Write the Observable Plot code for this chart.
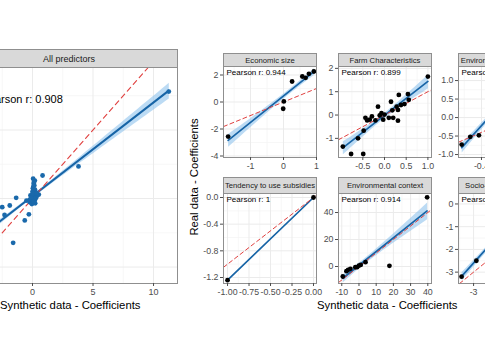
<!DOCTYPE html>
<html>
<head>
<meta charset="utf-8">
<script src="https://cdn.jsdelivr.net/npm/d3@7"></script>
<script src="https://cdn.jsdelivr.net/npm/@observablehq/plot@0.6"></script>
<style>
  html, body { margin: 0; padding: 0; background: #fff; }
  #wrap { position: relative; width: 485px; height: 360px; overflow: hidden; background: #fff; }
  .strip { position: absolute; box-sizing: border-box; background: #d9d9d9; border: 1px solid #8f8f8f;
           display: flex; align-items: center; justify-content: center; white-space: nowrap; overflow: hidden;
           color: #1a1a1a; font-family: 'Liberation Sans', Arial, sans-serif; }
  .title { position: absolute; white-space: nowrap; color: #000; font-family: 'Liberation Sans', Arial, sans-serif; font-size: 11.3px; }
</style>
</head>
<body>
<div id="wrap"></div>
<script>
// ---------- data ----------
const panelTitles = ["All predictors", "Economic size", "Farm Characteristics", "Environmental awareness",
                     "Tendency to use subsidies", "Environmental context", "Socio-economic factors"];
const pearsonLabels = ["Pearson r: 0.908", "Pearson r: 0.944", "Pearson r: 0.899", "Pearson r: 0.871",
                       "Pearson r: 1", "Pearson r: 0.914", "Pearson r: 0.982"];

const allX = [11.26, 3.8, 0.83, 0.19, 0.1, 0.03, 0.0, -0.17, 0.1, 0.39, -0.5, -0.22, 0.0, -1.35, -1.88, -2.5,
              -2.31, -0.3, -0.64, -1.6, 0.25, 0.52, 0.15, 0.05, -0.1, 0.2, 0.3,
              0.05, 0.12, 0.08, 0.2, 0.02, -0.05, 0.15, 0.35, -0.12, 0.05, 0.22, 0.1,
              -4.5, -3.6, -5.2];
const allY = [7.8, 2.34, 1.68, 1.31, 1.1, 0.75, 0.5, 0.22, 0.22, 0.22, -0.15, -0.27, -0.15, 0.05, -0.51, -0.63,
              -1.2, -1.15, -1.6, -3.23, 0.46, 0.29, 0.95, 0.1, -0.05, -0.1, 0.05,
              1.45, 1.2, 0.9, 0.65, 0.35, -0.4, 0.0, 0.4, 0.05, -0.3, -0.35, -0.2,
              -3.6, -2.2, -3.1];

const econX = [-1.68, 0.01, -0.01, 0.26, 0.57, 0.67, 0.77, 0.92];
const econY = [-2.56, 0.04, -0.5, 1.52, 1.89, 1.79, 2.09, 2.26];

const farmX = [-0.96, -0.77, -0.49, -0.61, -0.48, -0.44, -0.40, -0.34, -0.29, -0.21, -0.15, -0.11, -0.07, -0.03,
               0.0, 0.1, 0.15, 0.18, 0.2, 0.28, 0.31, 0.31, 0.33, 0.38, 0.46, 0.54, 0.56, 1.0];
const farmY = [-1.35, -1.67, -1.67, -1.0, -0.67, -0.12, -0.23, -0.2, -0.06, -0.23, 0.36, -0.02, 0.08, -0.2,
               0.02, -0.12, 0.57, 0.2, -0.12, 0.36, 0.22, -0.24, 0.86, 0.43, 0.47, 0.9, 0.65, 1.65];

const awareX = [-0.63, -0.53, -0.43, -0.3, -0.15, 0.0, 0.1, 0.18];
const awareY = [-0.73, -0.52, -0.48, 0.05, 0.45, 0.85, 1.1, 1.25];

const subsX = [-1.0, 0.0];
const subsY = [-1.24, 0.0];

const ctxX = [-9.4, -7.3, -6.3, -5.0, -2.1, -1.1, 0.0, 1.0, 3.8, 17.7, 39.6];
const ctxY = [-7.4, -3.5, -2.5, -1.7, -0.5, -0.5, 0.7, 1.2, 3.2, 0.5, 51.3];

const socioX = [-3.43, -2.9, -2.4, -1.9, -1.4, -0.8];
const socioY = [-3.2, -2.5, -1.8, -1.0, -0.3, 0.3];

// tick values
const allXTicks = [0, 5, 10], allXMinor = [-2.5, 2.5, 7.5];
const allYTicks = [-5, 0, 5], allYMinor = [-2.5, 2.5, 7.5];
const econXTicks = [-1, 0, 1], econXMinor = [-1.5, -0.5, 0.5];
const econYTicks = [-4, -2, 0, 2], econYMinor = [-3, -1, 1];
const farmXTicks = [-0.5, 0, 0.5, 1], farmXMinor = [-0.75, -0.25, 0.25, 0.75];
const farmYTicks = [-1, 0, 1, 2], farmYMinor = [-1.5, -0.5, 0.5, 1.5];
const awareXTicks = [-0.4, 0, 0.4], awareXMinor = [-0.6, -0.2, 0.2];
const awareYTicks = [-1, -0.5, 0, 0.5, 1], awareYMinor = [-0.75, -0.25, 0.25, 0.75];
const subsXTicks = [-1, -0.75, -0.5, -0.25, 0], subsXMinor = [-0.875, -0.625, -0.375, -0.125];
const subsYTicks = [-1.2, -0.8, -0.4, 0], subsYMinor = [-1.0, -0.6, -0.2];
const ctxXTicks = [-10, 0, 10, 20, 30, 40], ctxXMinor = [-5, 5, 15, 25, 35];
const ctxYTicks = [0, 20, 40], ctxYMinor = [-10, 10, 30, 50];
const socioXTicks = [-3, -2, -1], socioXMinor = [-3.5, -2.5, -1.5, -0.5];
const socioYTicks = [-3, -2, -1, 0], socioYMinor = [-3.5, -2.5, -1.5, -0.5];

// ---------- styling ----------
const FONT = "'Liberation Sans', Arial, Helvetica, sans-serif";
const BLUE = "#1764a6", BAND = "#8fc3ec", RED = "#e0403f", BORDER = "#8f8f8f";
const wrap = document.getElementById("wrap");
const hy = f => d => f(d).replace(/\u2212/g, "-");

function strip(text, L, T, W, H, fs) {
  const s = document.createElement("div");
  s.className = "strip";
  Object.assign(s.style, {left: L + "px", top: T + "px", width: W + "px", height: H + "px", fontSize: fs + "px"});
  s.textContent = text;
  wrap.appendChild(s);
}

function panel(c) {
  const ml = 40, mr = 2, mt = 2, mb = 24;
  const data = c.xs.map((x, i) => ({x, y: c.ys[i]}));
  const lo = Math.max(c.xd[0], c.yd[0]), hi = Math.min(c.xd[1], c.yd[1]);
  const marks = [
    Plot.gridX(c.xMinor, {stroke: "#f3f3f3", strokeOpacity: 1, strokeWidth: 0.7}),
    Plot.gridY(c.yMinor, {stroke: "#f3f3f3", strokeOpacity: 1, strokeWidth: 0.7}),
    Plot.gridX(c.xTicks, {stroke: "#ebebeb", strokeOpacity: 1, strokeWidth: 1}),
    Plot.gridY(c.yTicks, {stroke: "#ebebeb", strokeOpacity: 1, strokeWidth: 1}),
    Plot.linearRegressionY(data, {x: "x", y: "y", stroke: BLUE, strokeWidth: c.lw, fill: BAND,
                                  fillOpacity: 0.6, ci: c.ci, clip: true}),
    Plot.line([lo, hi], {x: d => d, y: d => d, stroke: RED, strokeWidth: c.rw, strokeDasharray: c.dash}),
    Plot.dot(data, {x: "x", y: "y", r: c.r, fill: c.color, stroke: "none", clip: true}),
    Plot.frame({stroke: BORDER}),
    Plot.axisX(c.xTicks, {tickSize: 3, tickPadding: 2, tickFormat: hy(c.xf), label: null}),
    Plot.text([c.pearson], {frameAnchor: "top-left", dx: c.pdx, dy: c.pdy, text: d => d, textAnchor: "start",
                            lineAnchor: "top", fontSize: c.pf, fill: "#000"})
  ];
  if (c.yAxis !== false) marks.push(Plot.axisY(c.yTicks, {tickSize: 3, tickPadding: 2, tickFormat: hy(c.yf), label: null}));
  const svg = Plot.plot({
    width: c.W + ml + mr, height: c.H + mt + mb,
    marginLeft: ml, marginRight: mr, marginTop: mt, marginBottom: mb,
    style: {fontFamily: FONT, fontSize: c.tf + "px", color: "#4d4d4d", background: "transparent", overflow: "visible"},
    x: {domain: c.xd, label: null, axis: null},
    y: {domain: c.yd, label: null, axis: null},
    marks
  });
  svg.style.position = "absolute";
  svg.style.left = (c.L - ml) + "px";
  svg.style.top = (c.T - mt) + "px";
  wrap.appendChild(svg);
}

const fInt = d3.format("d"), f1 = d3.format(".1f"), f2 = d3.format(".2f");

// All predictors (large panel, partly off the left edge)
panel({L: -40, T: 67, W: 217, H: 216, xd: [-5.95, 11.98], yd: [-6.2, 9.56], xs: allX, ys: allY,
       xTicks: allXTicks, xMinor: allXMinor, yTicks: allYTicks, yMinor: allYMinor, xf: fInt, yf: fInt, yAxis: false,
       tf: 9, color: "#1a69ab", r: 2.4, lw: 2, rw: 1.1, dash: "5,4", ci: 0.7,
       pearson: pearsonLabels[0], pdx: 21, pdy: 28, pf: 11});
strip(panelTitles[0], -40, 49, 218, 19, 9);

const facets = [
  {L: 223, T: 66, H: 91, xd: [-1.82, 1.0], yd: [-4.11, 2.63], xs: econX, ys: econY, xTicks: econXTicks, xMinor: econXMinor,
   yTicks: econYTicks, yMinor: econYMinor, xf: fInt, yf: fInt, ci: 0.65, i: 1, sT: 53},
  {L: 338, T: 66, H: 91, xd: [-1.06, 1.083], yd: [-1.82, 2.08], xs: farmX, ys: farmY, xTicks: farmXTicks, xMinor: farmXMinor,
   yTicks: farmYTicks, yMinor: farmYMinor, xf: f1, yf: fInt, ci: 0.9, i: 2, sT: 53},
  {L: 458, T: 66, H: 91, xd: [-0.667, 0.414], yd: [-1.08, 1.38], xs: awareX, ys: awareY, xTicks: awareXTicks, xMinor: awareXMinor,
   yTicks: awareYTicks, yMinor: awareYMinor, xf: f1, yf: f1, ci: 0.95, i: 3, sT: 53},
  {L: 223, T: 193, H: 90, xd: [-1.047, 0.035], yd: [-1.29, 0.06], xs: subsX, ys: subsY, xTicks: subsXTicks, xMinor: subsXMinor,
   yTicks: subsYTicks, yMinor: subsYMinor, xf: f2, yf: f1, ci: 0, i: 4, sT: 177},
  {L: 338, T: 193, H: 90, xd: [-11.9, 42.15], yd: [-12.6, 54.1], xs: ctxX, ys: ctxY, xTicks: ctxXTicks, xMinor: ctxXMinor,
   yTicks: ctxYTicks, yMinor: ctxYMinor, xf: fInt, yf: fInt, ci: 0.65, i: 5, sT: 177},
  {L: 458, T: 193, H: 90, xd: [-3.54, -0.21], yd: [-3.5, 0.46], xs: socioX, ys: socioY, xTicks: socioXTicks, xMinor: socioXMinor,
   yTicks: socioYTicks, yMinor: socioYMinor, xf: fInt, yf: fInt, ci: 0.95, i: 6, sT: 177}
];
for (const f of facets) {
  panel(Object.assign({W: 93, tf: 8.8, color: "#000", r: 2.4, lw: 1.7, rw: 1, dash: "4,3",
                       pearson: pearsonLabels[f.i], pdx: 3, pdy: 3, pf: 8}, f));
  strip(panelTitles[f.i], f.L, f.sT, 94, f.T - f.sT + 1, 7.7);
}

// axis titles
function title(text, x, y, rotate) {
  const t = document.createElement("div");
  t.className = "title";
  t.textContent = text;
  wrap.appendChild(t);
  const w = t.offsetWidth, h = t.offsetHeight;
  t.style.left = (x - w / 2) + "px";
  t.style.top = (y - h / 2) + "px";
  if (rotate) t.style.transform = "rotate(-90deg)";
}
title("Synthetic data - Coefficients", 70, 305);
title("Synthetic data - Coefficients", 387, 305);
title("Real data - Coefficients", 193, 177, true);
</script>
</body>
</html>
